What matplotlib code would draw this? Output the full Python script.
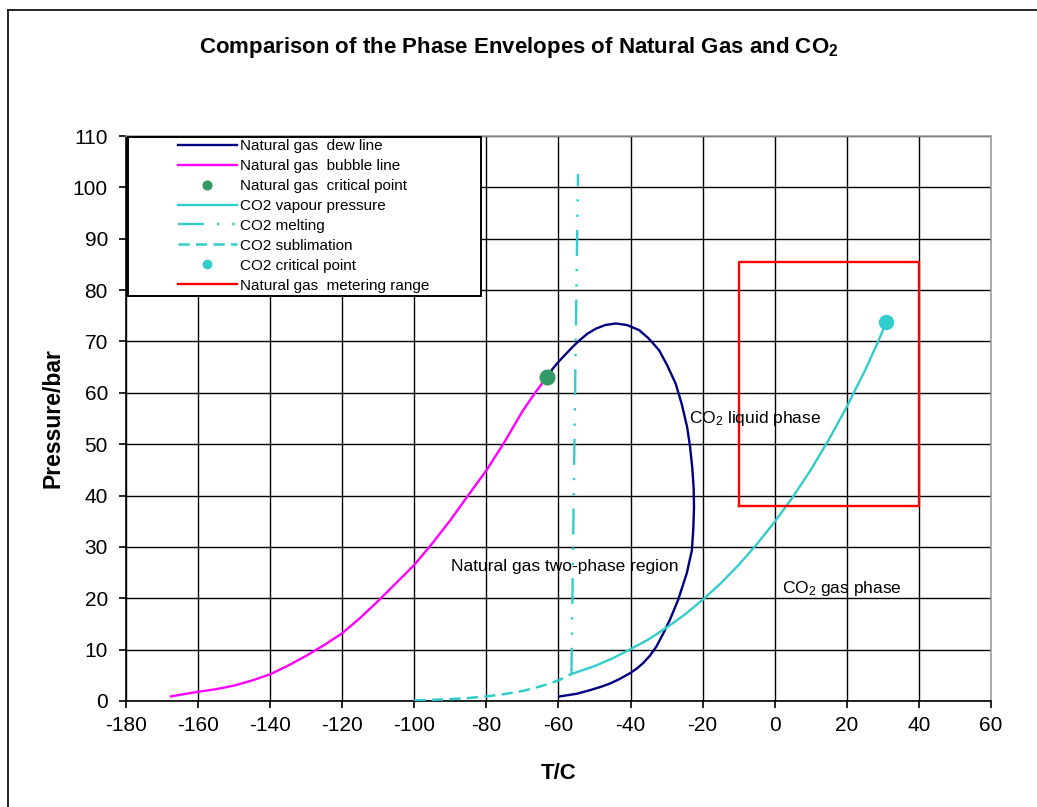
import matplotlib
matplotlib.use("Agg")
import matplotlib.pyplot as plt
from matplotlib.lines import Line2D
from matplotlib.patches import Rectangle

plt.rcParams['font.family'] = ['Liberation Sans', 'DejaVu Sans']
plt.rcParams['mathtext.fontset'] = 'custom'
plt.rcParams['mathtext.rm'] = 'Liberation Sans'
plt.rcParams['mathtext.it'] = 'Liberation Sans:italic'
plt.rcParams['mathtext.bf'] = 'Liberation Sans:bold'
plt.rcParams['axes.unicode_minus'] = False

# ---------------- data ----------------
dew_T = [-63.2, -61.6, -59.8, -57.9, -56.0, -54.2, -52.0, -49.6, -47.0, -44.1, -41.0,
         -37.6, -35.0, -32.1, -29.8, -27.5, -25.8, -24.3, -23.5, -22.9, -22.5, -22.4,
         -22.6, -23.0, -24.4, -26.8, -29.1, -30.9, -32.8, -34.6, -36.5, -38.3, -40.2,
         -43.0, -45.7, -48.5, -51.3, -55.0, -59.6]
dew_P = [63.1, 64.7, 66.2, 67.6, 69.0, 70.2, 71.5, 72.5, 73.2, 73.5, 73.2,
         72.2, 70.6, 68.3, 65.3, 61.8, 57.8, 53.3, 49.5, 45.5, 41.5, 37.7,
         33.5, 29.3, 24.9, 19.7, 15.8, 13.2, 10.65, 8.85, 7.4, 6.3, 5.4,
         4.3, 3.4, 2.7, 2.1, 1.4, 0.9]

bubble_T = [-167.5, -165, -160, -155, -150, -145, -140, -135, -130, -125, -120, -115,
            -110, -105, -100, -95, -90, -85, -80, -75, -70, -66.5, -63.2]
bubble_P = [0.9, 1.2, 1.8, 2.3, 3.0, 4.0, 5.2, 6.9, 8.8, 10.9, 13.2, 16.2,
            19.5, 23.0, 26.5, 30.7, 35.2, 40.1, 44.9, 50.4, 56.4, 60.0, 63.1]

ng_crit_T = [-63.2]
ng_crit_P = [63.1]

vap_T = [-56.6, -50, -45, -40, -35, -30, -25, -20, -15, -10, -5, 0, 5, 10, 15, 20, 25, 28, 31]
vap_P = [5.2, 6.8, 8.3, 10.1, 12.0, 14.3, 16.8, 19.7, 22.9, 26.5, 30.5, 34.9, 39.7, 45.0,
         50.9, 57.3, 64.3, 68.9, 73.8]

melt_T = [-56.4, -55.5, -54.6]
melt_P = [5.3, 55.0, 102.6]

subl_T = [-100, -95, -90, -85, -80, -75, -70, -65, -60, -56.6]
subl_P = [0.14, 0.23, 0.37, 0.58, 0.89, 1.35, 1.95, 2.85, 4.0, 5.2]

co2_crit_T = [31.0]
co2_crit_P = [73.8]

meter_T = [-10, 40, 40, -10, -10]
meter_P = [38, 38, 85.5, 85.5, 38]

x_ticks = list(range(-180, 61, 20))
y_ticks = list(range(0, 111, 10))

labels = ["Natural gas  dew line", "Natural gas  bubble line", "Natural gas  critical point",
          "CO2 vapour pressure", "CO2 melting", "CO2 sublimation", "CO2 critical point",
          "Natural gas  metering range"]

# ---------------- figure ----------------
W, H = 1037, 807
fig = plt.figure(figsize=(W / 100, H / 100), dpi=100)
ax = fig.add_axes([126 / W, (H - 701) / H, 865 / W, 565 / H])

navy = '#000080'
magenta = '#FF00FF'
green = '#339966'
cyan = '#33CCCC'
red = '#FF0000'

ax.plot(dew_T, dew_P, color=navy, lw=1.7, label=labels[0], zorder=3)
ax.plot(bubble_T, bubble_P, color=magenta, lw=1.7, label=labels[1], zorder=3)
ax.plot(ng_crit_T, ng_crit_P, 'o', color=green, ms=10.5, label=labels[2], zorder=4)
ax.plot(vap_T, vap_P, color=cyan, lw=1.7, label=labels[3], zorder=3)
ax.plot(melt_T, melt_P, color=cyan, lw=1.7, linestyle=(0, (11, 5.5, 1, 5.5, 1, 5.5)),
        label=labels[4], zorder=3)
ax.plot(subl_T, subl_P, color=cyan, lw=1.8, linestyle=(0, (4.5, 2.5)), label=labels[5], zorder=3)
ax.plot(co2_crit_T, co2_crit_P, 'o', color=cyan, ms=10, label=labels[6], zorder=4)
ax.plot(meter_T, meter_P, color=red, lw=1.7, label=labels[7], zorder=3)

ax.set_xlim(-180, 60)
ax.set_ylim(0, 110)
ax.set_xticks(x_ticks)
ax.set_yticks(y_ticks)
ax.set_axisbelow(True)
ax.grid(True, color='black', lw=1.0)
for s in ['left', 'bottom']:
    ax.spines[s].set_color('black')
    ax.spines[s].set_linewidth(1.2)
for s in ['top', 'right']:
    ax.spines[s].set_color('#A0A0A0')
    ax.spines[s].set_linewidth(1.2)
ax.tick_params(axis='both', direction='out', length=5, width=1.2, color='black',
               labelsize=15)
ax.tick_params(axis='y', pad=8)
ax.tick_params(axis='x', pad=6)

ax.set_xlabel('T/C', fontsize=16, fontweight='bold', labelpad=20)
ax.set_ylabel('Pressure/bar', fontsize=16.5, fontweight='bold', labelpad=6)

fig.text(519 / W, 1 - 48 / H, r"Comparison of the Phase Envelopes of Natural Gas and CO$_\mathbf{2}$",
         ha='center', va='center', fontsize=16, fontweight='bold')

ax.text(-23.8, 55, r"CO$_2$ liquid phase", fontsize=12.5, ha='left', va='center', zorder=5)
ax.text(-89.9, 26.1, "Natural gas two-phase region", fontsize=12.5, ha='left', va='center', zorder=5)
ax.text(2, 22, r"CO$_2$ gas phase", fontsize=12.5, ha='left', va='center', zorder=5)

# legend box
x0 = (128 - 126) / 865
x1 = (481 - 126) / 865
y0 = (701 - 296) / 565
y1 = (701 - 137) / 565
ax.add_patch(Rectangle((x0, y0), x1 - x0, y1 - y0, transform=ax.transAxes,
                       facecolor='white', edgecolor='black', lw=1.4, zorder=6))
leg = ax.legend(loc='upper left', bbox_to_anchor=((178 - 126) / 865, (701 - 139) / 565),
                frameon=False, borderpad=0, borderaxespad=0, fontsize=11,
                handlelength=3.85, handletextpad=0.2, labelspacing=0.39,
                numpoints=1, markerscale=0.6)
leg.set_zorder(7)

# figure border (left and top)
fig.add_artist(Line2D([8 / W, 8 / W], [0, 1 - 10 / H], transform=fig.transFigure,
                      color='black', lw=1.2))
fig.add_artist(Line2D([8 / W, 1], [1 - 10 / H, 1 - 10 / H], transform=fig.transFigure,
                      color='black', lw=1.2))

fig.savefig('out.png', dpi=100)
